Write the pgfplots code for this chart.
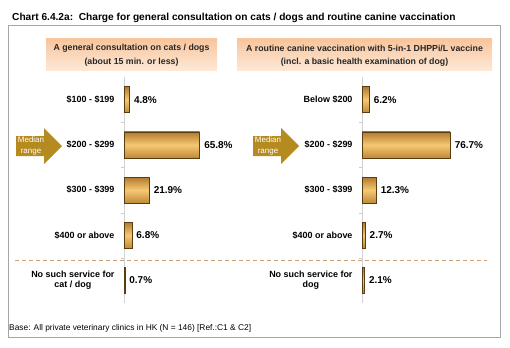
\documentclass[border=0pt]{standalone}
\usepackage{pgfplots}
\pgfplotsset{compat=1.18}
\usepackage{fontspec}
\setmainfont{Liberation Sans}
\definecolor{barmid}{HTML}{F6C873}
\definecolor{bartop}{HTML}{B07A2C}
\definecolor{barbot}{HTML}{C08A38}
\definecolor{baredge}{HTML}{5C3D12}
\definecolor{arrowc}{HTML}{B58A1E}
\definecolor{hdrtop}{HTML}{F8C49A}
\definecolor{hdrbot}{HTML}{FDE8D6}
\definecolor{dashc}{HTML}{C9A377}
\pgfplotsset{
 panel/.style={
  xbar, x=1.15bp, y=45.2bp, y dir=reverse,
  xmin=0, xmax=80, ymin=-0.5, ymax=4.5,
  axis x line=none, axis y line*=left,
  axis line style={-, draw=gray!35},
  ytick={0,1,2,3,4},
  major tick length=0pt,
  extra y ticks={0.5,1.5,2.5,3.5},
  extra y tick labels={},
  extra y tick style={major tick length=3bp, tick style={draw=gray!40}},
  yticklabel style={align=center, font=\fontsize{9}{10.5}\selectfont\bfseries, xshift=-6bp},
  bar width=26bp, bar shift=0pt,
  nodes near coords={\pgfmathprintnumber[fixed,fixed zerofill,precision=1]{\pgfplotspointmeta}\%},
  nodes near coords style={font=\fontsize{10}{12}\selectfont\bfseries, anchor=west, xshift=1bp, text=black},
  /pgf/number format/assume math mode=true,
  clip=false,
  cycle list={{barstyle}},
 },
 barstyle/.style={draw=baredge, line width=0.6pt, top color=bartop, bottom color=barbot, middle color=barmid},
}
\begin{document}
\begin{tikzpicture}[x=1bp,y=1bp]
\useasboundingbox (0,0) rectangle (510,347);
\node[anchor=base west, inner sep=0pt, font=\fontsize{10.2}{12}\selectfont\bfseries] at (12,327) {Chart 6.4.2a:\ \ Charge for general consultation on cats / dogs and routine canine vaccination};
\draw[gray!70, line width=0.8bp] (8,10) rectangle (500,322);
\shade[top color=hdrtop, bottom color=hdrbot] (46,277) rectangle (217,309);
\shade[top color=hdrtop, bottom color=hdrbot] (237,277) rectangle (492,309);
\node[font=\fontsize{8.8}{10}\selectfont\bfseries, text=black!85] at (131.5,299) {A general consultation on cats / dogs};
\node[font=\fontsize{8.8}{10}\selectfont\bfseries, text=black!85] at (131.5,285) {(about 15 min. or less)};
\node[font=\fontsize{8.8}{10}\selectfont\bfseries, text=black!85] at (364.5,299) {A routine canine vaccination with 5-in-1 DHPPi/L vaccine};
\node[font=\fontsize{8.8}{10}\selectfont\bfseries, text=black!85] at (364.5,285) {(incl. a basic health examination of dog)};
\draw[dashc, line width=1bp, dash pattern=on 4bp off 3bp] (15,87) -- (487,87);
\fill[arrowc] (16,191) -- (44,191) -- (44,183) -- (62,201) -- (44,219) -- (44,211) -- (16,211) -- cycle;
\node[align=center, text=white, font=\fontsize{8}{11}\selectfont] at (31,201) {Median\\range};
\fill[arrowc] (253,191) -- (281,191) -- (281,183) -- (299,201) -- (281,219) -- (281,211) -- (253,211) -- cycle;
\node[align=center, text=white, font=\fontsize{8}{11}\selectfont] at (268,201) {Median\\range};
\node[anchor=base west, inner sep=0pt, font=\fontsize{8.4}{10}\selectfont] at (9,17) {Base: All private veterinary clinics in HK (N = 146) [Ref.:C1 \& C2]};
\begin{axis}[panel, at={(124bp,270bp)}, anchor=north west,
  yticklabels={\$100 - \$199, \$200 - \$299, \$300 - \$399, \$400 or above, {No such service for\\cat / dog}}]
\addplot[barstyle] coordinates {(4.8,0)};
\addplot[barstyle] coordinates {(65.8,1)};
\addplot[barstyle] coordinates {(21.9,2)};
\addplot[barstyle] coordinates {(6.8,3)};
\addplot[barstyle] coordinates {(0.7,4)};
\end{axis}
\begin{axis}[panel, at={(362bp,270bp)}, anchor=north west,
  yticklabels={Below \$200, \$200 - \$299, \$300 - \$399, \$400 or above, {No such service for\\dog}}]
\addplot[barstyle] coordinates {(6.2,0)};
\addplot[barstyle] coordinates {(76.7,1)};
\addplot[barstyle] coordinates {(12.3,2)};
\addplot[barstyle] coordinates {(2.7,3)};
\addplot[barstyle] coordinates {(2.1,4)};
\end{axis}
\end{tikzpicture}
\end{document}
